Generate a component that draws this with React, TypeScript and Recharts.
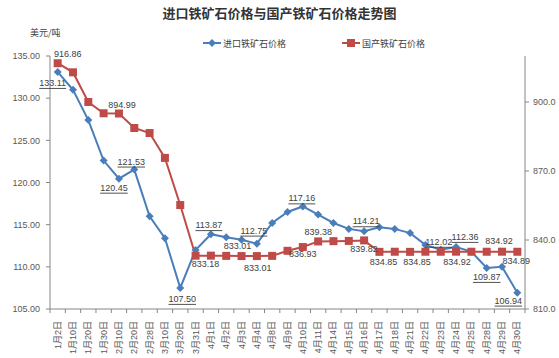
import React from 'react';
import { LineChart, Line, XAxis, YAxis, LabelList } from 'recharts';

const dates = [
  '1月2日', '1月10日', '1月20日', '1月30日', '2月10日', '2月20日', '2月28日', '3月10日',
  '3月20日', '3月31日', '4月1日', '4月2日', '4月3日', '4月4日', '4月8日', '4月9日',
  '4月10日', '4月11日', '4月14日', '4月15日', '4月16日', '4月17日', '4月18日', '4月21日',
  '4月22日', '4月23日', '4月24日', '4月25日', '4月28日', '4月29日', '4月30日',
];

// 进口铁矿石价格 (美元/吨, left axis)
const importPrice = [
  133.11, 131.0, 127.4, 122.6, 120.45, 121.53, 116.0, 113.4,
  107.5, 112.0, 113.87, 113.5, 113.2, 112.75, 115.2, 116.5,
  117.16, 116.2, 115.2, 114.5, 114.21, 114.7, 114.5, 114.0,
  112.6, 112.02, 112.36, 111.8, 109.87, 110.0, 106.94,
];

// 国产铁矿石价格 (right axis)
const domesticPrice = [
  916.86, 912.9, 900.0, 895.1, 894.99, 888.7, 886.5, 875.7,
  855.2, 833.18, 833.2, 833.1, 833.01, 833.01, 833.1, 835.3,
  836.93, 839.38, 839.5, 839.6, 839.82, 834.85, 834.9, 834.85,
  834.9, 834.9, 834.92, 834.9, 834.9, 834.92, 834.89,
];

const leftTicks = [105, 110, 115, 120, 125, 130, 135];
const rightTicks = [810, 840, 870, 900];

// labelled points: index -> [dx, dy] of the label centre from the marker
const importLabels: Record<number, [number, number]> = {
  0: [-5, 11], 4: [-5, 9], 5: [-3, -8], 8: [2, 11], 10: [-2, -9], 13: [-3, -13],
  16: [-1, -8], 20: [2, -10], 25: [-2, -8], 26: [9, -10], 28: [0, 9], 30: [-9, 8],
};
const domesticLabels: Record<number, [number, number]> = {
  0: [10, -9], 4: [3, -9], 9: [10, 8], 12: [-4, -10], 13: [1, 12], 16: [0, 7],
  17: [0, -9], 20: [0, 9], 21: [4, 10], 23: [7, 10], 26: [1, 10], 29: [-3, -11], 30: [-1, 9],
};

const BLUE = '#4A7EBB';
const RED = '#BE4B48';
const AXIS = '#868686';
const FONT = '"Liberation Sans", "Noto Sans CJK SC", sans-serif';
const CJK = '"Noto Sans CJK SC", sans-serif';

const W = 559;
const H = 358;
const PLOT_LEFT = 50;
const PLOT_RIGHT = 525;
const HALF_BAND = (PLOT_RIGHT - PLOT_LEFT) / dates.length / 2;

const data = dates.map((d, i) => ({ date: d, imp: importPrice[i], dom: domesticPrice[i] }));

const Diamond = (p: any) => {
  const { cx, cy, index } = p;
  if (cx == null || cy == null) return <g key={`d-${index}`} />;
  return (
    <path key={`d-${index}`} d={`M${cx},${cy - 4}L${cx + 4},${cy}L${cx},${cy + 4}L${cx - 4},${cy}Z`} fill={BLUE} />
  );
};

const Square = (p: any) => {
  const { cx, cy, index } = p;
  if (cx == null || cy == null) return <g key={`s-${index}`} />;
  return <rect key={`s-${index}`} x={cx - 4} y={cy - 4} width={8} height={8} fill={RED} />;
};

const makeLabel = (spots: Record<number, [number, number]>, underline: boolean) => (p: any) => {
  const spot = spots[p.index];
  if (!spot) return null;
  const x = p.x ?? p.viewBox?.x;
  const y = p.y ?? p.viewBox?.y;
  if (x == null || y == null) return null;
  return (
    <text
      x={x + spot[0]}
      y={y + spot[1]}
      textAnchor="middle"
      dominantBaseline="central"
      fontSize={9}
      fontFamily={FONT}
      fill="#404040"
      style={underline ? { textDecoration: 'underline' } : undefined}
    >
      {Number(p.value).toFixed(2)}
    </text>
  );
};

// rotated date label; the tick mark sits on the band boundary like Excel does
const DateTick = (p: any) => {
  const { x, y, payload } = p;
  const i = dates.indexOf(payload.value);
  const top = y - 12;
  return (
    <g>
      <line x1={x - HALF_BAND} y1={top} x2={x - HALF_BAND} y2={top + 4} stroke={AXIS} />
      {i === dates.length - 1 && (
        <line x1={x + HALF_BAND} y1={top} x2={x + HALF_BAND} y2={top + 4} stroke={AXIS} />
      )}
      <text
        x={x}
        y={y}
        transform={`rotate(-90, ${x}, ${y})`}
        textAnchor="end"
        dominantBaseline="central"
        fontSize={9}
        fontFamily={FONT}
        fill="#595959"
      >
        {payload.value}
      </text>
    </g>
  );
};

const LegendItem = ({ left, color, square, text }: { left: number; color: string; square?: boolean; text: string }) => (
  <div style={{ position: 'absolute', left, top: 36, display: 'flex', alignItems: 'center', height: 14 }}>
    <svg width={18} height={10}>
      <line x1={0} y1={5} x2={18} y2={5} stroke={color} strokeWidth={2} />
      {square ? <rect x={5} y={1} width={8} height={8} fill={color} /> : <path d="M9,1L13,5L9,9L5,5Z" fill={color} />}
    </svg>
    <span style={{ fontFamily: CJK, fontSize: 9, color: '#404040', marginLeft: 2 }}>{text}</span>
  </div>
);

export default function App() {
  return (
    <div style={{ position: 'absolute', left: 0, top: 0, width: W, height: H, background: '#fff' }}>
      <div
        style={{
          position: 'absolute', left: 0, top: 4, width: W, textAlign: 'center',
          fontFamily: CJK, fontWeight: 700, fontSize: 13, color: '#333', lineHeight: '18px',
        }}
      >
        进口铁矿石价格与国产铁矿石价格走势图
      </div>
      <div style={{ position: 'absolute', left: 30, top: 26, fontFamily: CJK, fontSize: 9, color: '#404040' }}>
        美元/吨
      </div>
      <LegendItem left={203} color={BLUE} text="进口铁矿石价格" />
      <LegendItem left={342} color={RED} square text="国产铁矿石价格" />
      <LineChart width={W} height={H} data={data} margin={{ top: 56, right: 0, left: 8, bottom: 0 }}>
        <XAxis
          dataKey="date"
          interval={0}
          height={49}
          padding={{ left: HALF_BAND, right: HALF_BAND }}
          tickLine={false}
          tickSize={4}
          tickMargin={8}
          stroke={AXIS}
          tick={<DateTick />}
        />
        <YAxis
          yAxisId="left"
          width={42}
          domain={[105, 135]}
          ticks={leftTicks}
          tickFormatter={(v: number) => v.toFixed(2)}
          tickSize={4}
          tickMargin={6}
          stroke={AXIS}
          tick={{ fontSize: 9, fontFamily: FONT, fill: '#595959' }}
        />
        <YAxis
          yAxisId="right"
          orientation="right"
          width={34}
          domain={[810, 920]}
          ticks={rightTicks}
          tickFormatter={(v: number) => v.toFixed(1)}
          tickSize={4}
          tickMargin={4}
          stroke={AXIS}
          tick={{ fontSize: 9, fontFamily: FONT, fill: '#595959', textAnchor: 'start' }}
        />
        <Line
          yAxisId="left"
          dataKey="imp"
          stroke={BLUE}
          strokeWidth={2}
          dot={Diamond}
          activeDot={false}
          isAnimationActive={false}
        >
          <LabelList dataKey="imp" content={makeLabel(importLabels, true)} />
        </Line>
        <Line
          yAxisId="right"
          dataKey="dom"
          stroke={RED}
          strokeWidth={2}
          dot={Square}
          activeDot={false}
          isAnimationActive={false}
        >
          <LabelList dataKey="dom" content={makeLabel(domesticLabels, false)} />
        </Line>
      </LineChart>
    </div>
  );
}
